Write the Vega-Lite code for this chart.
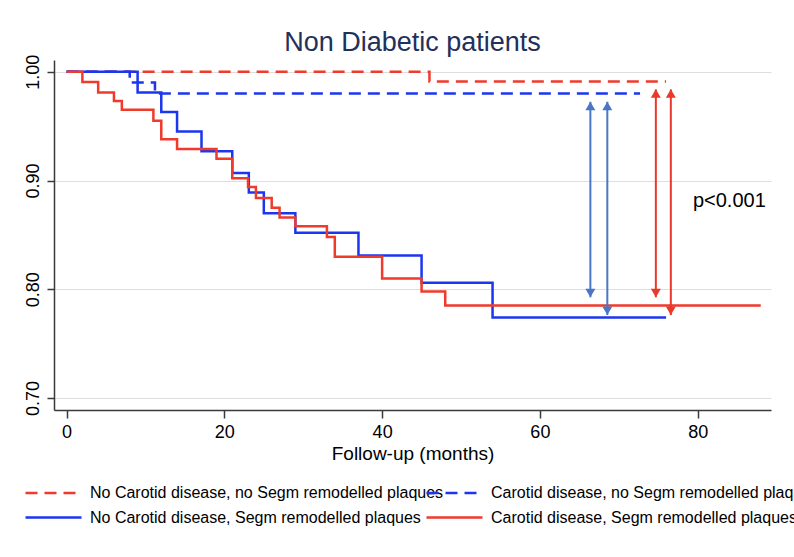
{
  "$schema": "https://vega.github.io/schema/vega-lite/v6.json",
  "width": 717,
  "height": 350,
  "autosize": "none",
  "padding": {"left": 54, "top": 60, "right": 23, "bottom": 147},
  "background": "white",
  "config": {
    "font": "Liberation Sans",
    "view": {"stroke": null},
    "axis": {
      "labelColor": "black",
      "titleColor": "black",
      "domainColor": "#3a3a3a",
      "domainWidth": 1.5,
      "tickColor": "#3a3a3a",
      "tickWidth": 1.5,
      "labelFontSize": 18,
      "titleFontSize": 19,
      "titleFontWeight": "normal",
      "gridColor": "#dedede",
      "gridWidth": 1.2
    },
    "legend": {
      "title": null,
      "orient": "none",
      "direction": "vertical",
      "legendY": 423.5,
      "rowPadding": 6.5,
      "padding": 0,
      "symbolType": "M-1,0H6",
      "symbolSize": 256,
      "symbolStrokeWidth": 2.5,
      "symbolFillColor": "transparent",
      "labelFontSize": 16,
      "labelColor": "black",
      "labelOffset": 47,
      "labelLimit": 600
    }
  },
  "title": {
    "text": "Non Diabetic patients",
    "fontSize": 27,
    "fontWeight": "normal",
    "color": "#23305a",
    "anchor": "middle",
    "frame": "group",
    "baseline": "alphabetic",
    "offset": 7,
    "dy": 31
  },
  "datasets": {
    "curves": [
      {"group": "No Carotid disease, no Segm remodelled plaques", "t": 0, "s": 1.0},
      {"group": "No Carotid disease, no Segm remodelled plaques", "t": 46, "s": 0.991},
      {"group": "No Carotid disease, no Segm remodelled plaques", "t": 76, "s": 0.991},
      {"group": "Carotid disease, no Segm remodelled plaques", "t": 0, "s": 1.0},
      {"group": "Carotid disease, no Segm remodelled plaques", "t": 8, "s": 0.990},
      {"group": "Carotid disease, no Segm remodelled plaques", "t": 11.2, "s": 0.980},
      {"group": "Carotid disease, no Segm remodelled plaques", "t": 72.7, "s": 0.980},
      {"group": "No Carotid disease, Segm remodelled plaques", "t": 0, "s": 1.0},
      {"group": "No Carotid disease, Segm remodelled plaques", "t": 9, "s": 0.981},
      {"group": "No Carotid disease, Segm remodelled plaques", "t": 12, "s": 0.963},
      {"group": "No Carotid disease, Segm remodelled plaques", "t": 14, "s": 0.945},
      {"group": "No Carotid disease, Segm remodelled plaques", "t": 17.1, "s": 0.927},
      {"group": "No Carotid disease, Segm remodelled plaques", "t": 21, "s": 0.907},
      {"group": "No Carotid disease, Segm remodelled plaques", "t": 23.1, "s": 0.889},
      {"group": "No Carotid disease, Segm remodelled plaques", "t": 25, "s": 0.870},
      {"group": "No Carotid disease, Segm remodelled plaques", "t": 29, "s": 0.852},
      {"group": "No Carotid disease, Segm remodelled plaques", "t": 37, "s": 0.831},
      {"group": "No Carotid disease, Segm remodelled plaques", "t": 45, "s": 0.806},
      {"group": "No Carotid disease, Segm remodelled plaques", "t": 54, "s": 0.774},
      {"group": "No Carotid disease, Segm remodelled plaques", "t": 76, "s": 0.774},
      {"group": "Carotid disease, Segm remodelled plaques", "t": 0, "s": 1.0},
      {"group": "Carotid disease, Segm remodelled plaques", "t": 2, "s": 0.9905},
      {"group": "Carotid disease, Segm remodelled plaques", "t": 4, "s": 0.981},
      {"group": "Carotid disease, Segm remodelled plaques", "t": 6, "s": 0.973},
      {"group": "Carotid disease, Segm remodelled plaques", "t": 7, "s": 0.965},
      {"group": "Carotid disease, Segm remodelled plaques", "t": 11, "s": 0.955},
      {"group": "Carotid disease, Segm remodelled plaques", "t": 12, "s": 0.938},
      {"group": "Carotid disease, Segm remodelled plaques", "t": 14, "s": 0.929},
      {"group": "Carotid disease, Segm remodelled plaques", "t": 19, "s": 0.920},
      {"group": "Carotid disease, Segm remodelled plaques", "t": 21, "s": 0.902},
      {"group": "Carotid disease, Segm remodelled plaques", "t": 23, "s": 0.894},
      {"group": "Carotid disease, Segm remodelled plaques", "t": 24, "s": 0.884},
      {"group": "Carotid disease, Segm remodelled plaques", "t": 26, "s": 0.875},
      {"group": "Carotid disease, Segm remodelled plaques", "t": 27, "s": 0.866},
      {"group": "Carotid disease, Segm remodelled plaques", "t": 29, "s": 0.858},
      {"group": "Carotid disease, Segm remodelled plaques", "t": 33, "s": 0.848},
      {"group": "Carotid disease, Segm remodelled plaques", "t": 34, "s": 0.830},
      {"group": "Carotid disease, Segm remodelled plaques", "t": 40, "s": 0.810},
      {"group": "Carotid disease, Segm remodelled plaques", "t": 45, "s": 0.798},
      {"group": "Carotid disease, Segm remodelled plaques", "t": 48, "s": 0.785},
      {"group": "Carotid disease, Segm remodelled plaques", "t": 88, "s": 0.785}
    ],
    "arrows": [
      {"pair": "no Segm vs Segm, no Carotid", "tone": "blue", "t": 66.4, "top": 0.9724, "bottom": 0.7926},
      {"pair": "Carotid no Segm vs no Carotid Segm", "tone": "blue", "t": 68.55, "top": 0.9724, "bottom": 0.7763},
      {"pair": "no Carotid no Segm vs Carotid Segm", "tone": "red", "t": 74.7, "top": 0.9838, "bottom": 0.7926},
      {"pair": "no Carotid no Segm vs no Carotid Segm", "tone": "red", "t": 76.6, "top": 0.9838, "bottom": 0.7763}
    ],
    "notes": [
      {"t": 79.4, "s": 0.876, "label": "p<0.001"}
    ]
  },
  "layer": [
    {
      "data": {"name": "curves"},
      "transform": [{"filter": "datum.group === 'No Carotid disease, no Segm remodelled plaques'"}],
      "mark": {"type": "line", "interpolate": "step-after", "strokeWidth": 2.5, "strokeDash": [12, 7]},
      "encoding": {
        "x": {
          "field": "t", "type": "quantitative",
          "scale": {"domain": [-1.6, 89.3], "nice": false, "zero": false},
          "axis": {
            "values": [0, 20, 40, 60, 80],
            "title": "Follow-up (months)",
            "grid": false,
            "tickSize": 8,
            "labelPadding": 5,
            "titlePadding": 3,
            "labelFlush": false
          }
        },
        "y": {
          "field": "s", "type": "quantitative",
          "scale": {"domain": [0.689, 1.0108], "nice": false, "zero": false},
          "axis": {
            "values": [0.7, 0.8, 0.9, 1.0],
            "format": ".2f",
            "title": null,
            "grid": true,
            "tickSize": 7,
            "labelAngle": -90,
            "labelAlign": "center",
            "labelBaseline": "alphabetic",
            "labelPadding": 9,
            "labelFlush": false
          }
        },
        "color": {
          "field": "group", "type": "nominal",
          "scale": {
            "domain": ["No Carotid disease, no Segm remodelled plaques", "No Carotid disease, Segm remodelled plaques"],
            "range": ["#f03a2c", "#1c36f0"]
          },
          "legend": {
            "title": null,
            "legendX": -30,
            "encode": {"symbols": {"update": {"strokeDash": {"signal": "datum.value === 'No Carotid disease, no Segm remodelled plaques' ? [12, 7] : [1, 0]"}}}}
          }
        }
      }
    },
    {
      "data": {"name": "curves"},
      "transform": [{"filter": "datum.group === 'Carotid disease, no Segm remodelled plaques'"}],
      "mark": {"type": "line", "interpolate": "step-after", "strokeWidth": 2.5, "strokeDash": [12, 7]},
      "encoding": {
        "x": {"field": "t", "type": "quantitative"},
        "y": {"field": "s", "type": "quantitative"},
        "stroke": {
          "field": "group", "type": "nominal",
          "scale": {
            "domain": ["Carotid disease, no Segm remodelled plaques", "Carotid disease, Segm remodelled plaques"],
            "range": ["#1c36f0", "#f03a2c"]
          },
          "legend": {
            "title": null,
            "legendX": 371,
            "encode": {"symbols": {"update": {"strokeDash": {"signal": "datum.value === 'Carotid disease, no Segm remodelled plaques' ? [12, 7] : [1, 0]"}}}}
          }
        }
      }
    },
    {
      "data": {"name": "curves"},
      "transform": [{"filter": "datum.group === 'No Carotid disease, Segm remodelled plaques'"}],
      "mark": {"type": "line", "interpolate": "step-after", "strokeWidth": 2.5},
      "encoding": {
        "x": {"field": "t", "type": "quantitative"},
        "y": {"field": "s", "type": "quantitative"},
        "color": {"field": "group", "type": "nominal"}
      }
    },
    {
      "data": {"name": "curves"},
      "transform": [{"filter": "datum.group === 'Carotid disease, Segm remodelled plaques'"}],
      "mark": {"type": "line", "interpolate": "step-after", "strokeWidth": 2.5},
      "encoding": {
        "x": {"field": "t", "type": "quantitative"},
        "y": {"field": "s", "type": "quantitative"},
        "stroke": {"field": "group", "type": "nominal"}
      }
    },
    {
      "data": {"name": "arrows"},
      "transform": [{"filter": "datum.tone === 'blue'"}],
      "mark": {"type": "rule", "color": "#4a76c6", "strokeWidth": 2},
      "encoding": {
        "x": {"field": "t", "type": "quantitative"},
        "y": {"field": "top", "type": "quantitative"},
        "y2": {"field": "bottom"}
      }
    },
    {
      "data": {"name": "arrows"},
      "transform": [{"filter": "datum.tone === 'blue'"}],
      "mark": {"type": "point", "shape": "M0,0L1,1.7L-1,1.7Z", "filled": true, "color": "#4a76c6", "size": 100, "opacity": 1, "strokeWidth": 0},
      "encoding": {
        "x": {"field": "t", "type": "quantitative"},
        "y": {"field": "top", "type": "quantitative"}
      }
    },
    {
      "data": {"name": "arrows"},
      "transform": [{"filter": "datum.tone === 'blue'"}],
      "mark": {"type": "point", "shape": "M0,0L1,-1.7L-1,-1.7Z", "filled": true, "color": "#4a76c6", "size": 100, "opacity": 1, "strokeWidth": 0},
      "encoding": {
        "x": {"field": "t", "type": "quantitative"},
        "y": {"field": "bottom", "type": "quantitative"}
      }
    },
    {
      "data": {"name": "arrows"},
      "transform": [{"filter": "datum.tone === 'red'"}],
      "mark": {"type": "rule", "color": "#e8392b", "strokeWidth": 2},
      "encoding": {
        "x": {"field": "t", "type": "quantitative"},
        "y": {"field": "top", "type": "quantitative"},
        "y2": {"field": "bottom"}
      }
    },
    {
      "data": {"name": "arrows"},
      "transform": [{"filter": "datum.tone === 'red'"}],
      "mark": {"type": "point", "shape": "M0,0L1,1.7L-1,1.7Z", "filled": true, "color": "#e8392b", "size": 100, "opacity": 1, "strokeWidth": 0},
      "encoding": {
        "x": {"field": "t", "type": "quantitative"},
        "y": {"field": "top", "type": "quantitative"}
      }
    },
    {
      "data": {"name": "arrows"},
      "transform": [{"filter": "datum.tone === 'red'"}],
      "mark": {"type": "point", "shape": "M0,0L1,-1.7L-1,-1.7Z", "filled": true, "color": "#e8392b", "size": 100, "opacity": 1, "strokeWidth": 0},
      "encoding": {
        "x": {"field": "t", "type": "quantitative"},
        "y": {"field": "bottom", "type": "quantitative"}
      }
    },
    {
      "data": {"name": "notes"},
      "mark": {"type": "text", "align": "left", "baseline": "alphabetic", "fontSize": 20, "color": "black"},
      "encoding": {
        "x": {"field": "t", "type": "quantitative"},
        "y": {"field": "s", "type": "quantitative"},
        "text": {"field": "label"}
      }
    }
  ]
}
